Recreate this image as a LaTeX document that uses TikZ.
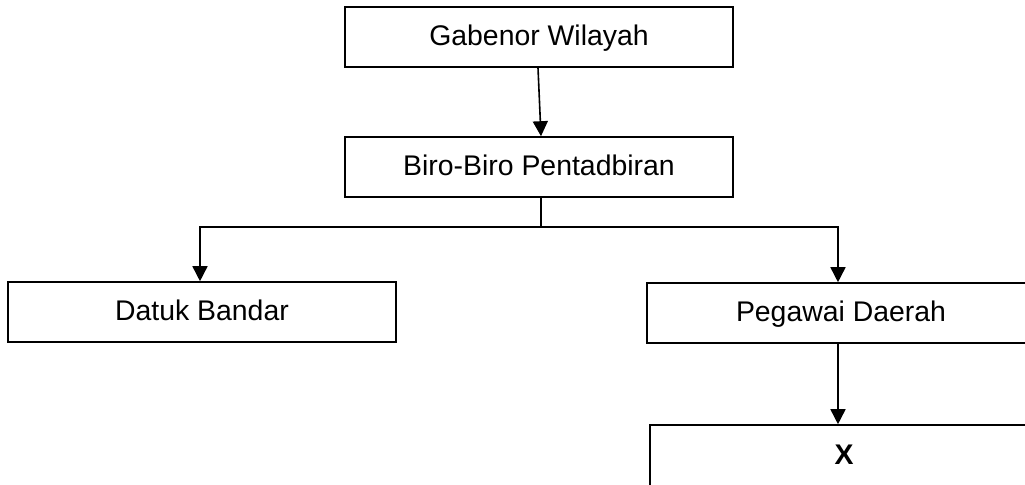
\documentclass[tikz,border=0pt]{standalone}
\usepackage{fontspec}
\setmainfont{Liberation Sans}
\usetikzlibrary{arrows.meta}
\begin{document}
\begin{tikzpicture}[x=0.5pt,y=-0.5pt,
    box/.style={draw=black,line width=0.8pt,minimum width=194pt,minimum height=30pt,inner sep=0pt,text height=10.2pt,text depth=2pt,font=\fontsize{14.2pt}{17pt}\selectfont},
    arr/.style={draw=black,line width=0.8pt,-{Triangle[length=7.5pt,width=7.5pt]}},
    lnk/.style={draw=black,line width=0.8pt}]
    \useasboundingbox (0,0) rectangle (1025,484);
    \clip (0,0) rectangle (1025,484);
    \node [box] (gabenor) at (539,37) {Gabenor Wilayah};
    \node [box] (biro) at (539,167) {Biro-Biro Pentadbiran};
    \node [box] (datuk) at (202,312) {Datuk Bandar};
    \node [box] (pegawai) at (841,313) {Pegawai Daerah};
    \node [box,minimum height=32pt,text depth=3pt] (x) at (844,457) {\textbf{X}};
    \coordinate (split) at (541,227);
    \draw [arr] ([xshift=-0.5pt]gabenor.south) -- ([xshift=1pt]biro.north);
    \draw [lnk] ([xshift=1pt]biro.south) -- (split);
    \draw [arr] (split) -| ([xshift=-1pt]datuk.north);
    \draw [arr] (split) -| ([xshift=-1.5pt]pegawai.north);
    \draw [arr] ([xshift=-1.5pt]pegawai.south) -- ([xshift=-1.5pt]pegawai.south |- x.north);
\end{tikzpicture}
\end{document}
